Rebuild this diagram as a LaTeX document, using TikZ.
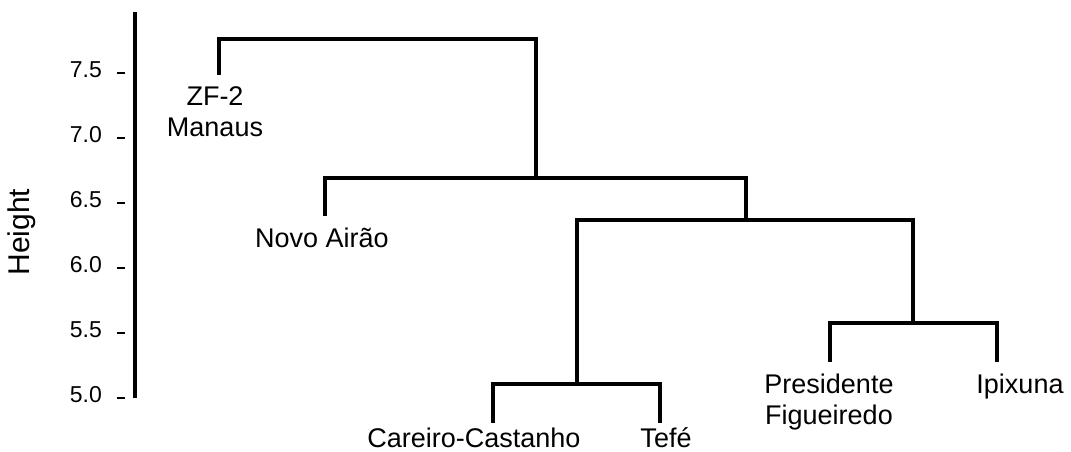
\documentclass[tikz,border=0pt]{standalone}
\usepackage{fontspec}
\setmainfont{Liberation Sans}
\begin{document}
\begin{tikzpicture}[x=1pt,y=-1pt,
  branch/.style={line width=3.3pt, line cap=rect},
  lbl/.style={font=\fontsize{27}{31}\selectfont, inner sep=0pt, align=center},
  ticklbl/.style={font=\fontsize{23}{26}\selectfont, inner sep=0pt, anchor=east},
  tickmark/.style={line width=1.4pt}]
\useasboundingbox (0,0) rectangle (1071,452);
% axis
\coordinate (axtop) at (135,12);
\coordinate (axbot) at (135,398);
\draw[line width=3.2pt] (axtop) -- (axbot);
\foreach \v/\y in {7.5/73,7.0/138,6.5/203,6.0/268,5.5/333,5.0/398}{
  \coordinate (t\y) at (117,\y);
  \coordinate (u\y) at (125,\y);
  \draw[tickmark] (t\y) -- (u\y);
  \node[ticklbl] (l\y) at (102,\y-3) {\v};
}
\node[font=\fontsize{30}{33}\selectfont, rotate=90, inner sep=0pt] (h) at (22,232) {Height};
% leaves and clusters
\coordinate (zf) at (219,73);
\coordinate (novo) at (325,214);
\coordinate (cc) at (493,421);
\coordinate (tefe) at (660,421);
\coordinate (pf) at (830,360);
\coordinate (ip) at (997,360);
\coordinate (A) at (577,384);
\coordinate (B) at (913,323);
\coordinate (C) at (746,220);
\coordinate (D) at (536,178);
\coordinate (E) at (377,39);
\draw[branch] (cc) |- (A) -| (tefe);
\draw[branch] (pf) |- (B) -| (ip);
\draw[branch] (A) |- (C) -| (B);
\draw[branch] (novo) |- (D) -| (C);
\draw[branch] (zf) |- (E) -| (D);
% labels
\node[lbl] (nzf) at (215,112) {ZF-2\\Manaus};
\node[lbl] (nnovo) at (322,238) {Novo Airão};
\node[lbl] (ncc) at (474,438) {Careiro-Castanho};
\node[lbl] (ntefe) at (666,438) {Tefé};
\node[lbl] (npf) at (829,402) {Presidente\\Figueiredo};
\node[lbl] (nip) at (1020,387) {Ipixuna};
\end{tikzpicture}
\end{document}
